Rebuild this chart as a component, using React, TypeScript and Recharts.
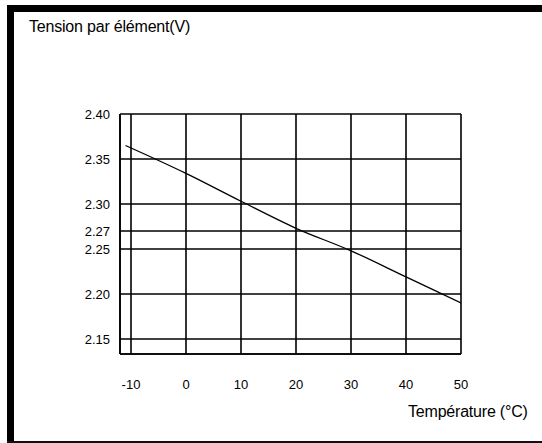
import React from "react";
import { LineChart, Line, XAxis, YAxis, CartesianGrid } from "recharts";

const temperatures = [-11, 0, 10, 20, 30, 40, 50];
const voltages = [2.365, 2.334, 2.303, 2.273, 2.248, 2.219, 2.19];
const xTicks = [-10, 0, 10, 20, 30, 40, 50];
const yTicks = [2.15, 2.2, 2.25, 2.27, 2.3, 2.35, 2.4];
const title = "Tension par élément(V)";
const xTitle = "Température (°C)";

const data = temperatures.map((t, i) => ({ t, v: voltages[i] }));

const font = "'Liberation Sans', Arial, sans-serif";

export default function App() {
  return (
    <div style={{ position: "absolute", left: 0, top: 0, width: 542, height: 443, background: "#fff", overflow: "hidden", fontFamily: font }}>
      <div style={{ position: "absolute", left: 7, top: 5, width: 535, height: 7, background: "#000" }} />
      <div style={{ position: "absolute", left: 7, top: 5, width: 7, height: 438, background: "#000" }} />
      <div style={{ position: "absolute", left: 7, top: 441, width: 535, height: 2, background: "#111" }} />
      <div style={{ position: "absolute", left: 29, top: 18, fontSize: 16, color: "#000", whiteSpace: "nowrap", letterSpacing: -0.2 }}>{title}</div>
      <div style={{ position: "absolute", left: 408, top: 403, fontSize: 16, color: "#000", whiteSpace: "nowrap", letterSpacing: -0.2 }}>{xTitle}</div>
      <div style={{ position: "absolute", left: 0, top: 0 }}>
        <LineChart width={542} height={443} data={data} margin={{ top: 114, right: 81, bottom: 0, left: 0 }}>
          <CartesianGrid stroke="#000" strokeWidth={1.6} />
          <XAxis
            dataKey="t"
            type="number"
            domain={[-12, 50]}
            ticks={xTicks}
            allowDataOverflow
            height={89}
            tickSize={0}
            tickMargin={26}
            axisLine={{ stroke: "#000", strokeWidth: 1.6 }}
            tick={{ fill: "#000", fontSize: 13, fontFamily: font }}
            interval={0}
          />
          <YAxis
            type="number"
            domain={[2.1333, 2.4]}
            ticks={yTicks}
            allowDataOverflow
            width={120}
            tickSize={0}
            tickMargin={10}
            axisLine={{ stroke: "#000", strokeWidth: 1.6 }}
            tick={{ fill: "#000", fontSize: 13, fontFamily: font }}
            tickFormatter={(v: number) => v.toFixed(2)}
            interval={0}
          />
          <Line
            dataKey="v"
            type="monotone"
            stroke="#000"
            strokeWidth={1.3}
            dot={false}
            isAnimationActive={false}
          />
        </LineChart>
      </div>
    </div>
  );
}
